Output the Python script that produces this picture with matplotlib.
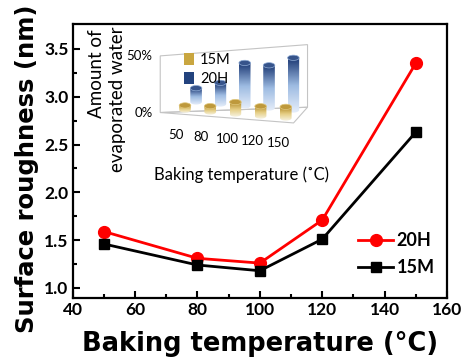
import numpy as np
import matplotlib
matplotlib.use('Agg')
import matplotlib.pyplot as plt
from matplotlib.colors import LinearSegmentedColormap
from matplotlib.patches import Patch, Ellipse, Polygon

# main chart data
temps = [50, 80, 100, 120, 150]
rough_20H = [1.59, 1.31, 1.26, 1.71, 3.35]
rough_15M = [1.46, 1.24, 1.18, 1.51, 2.63]

# inset data (amount of evaporated water, %)
inset_labels = ['50', '80', '100', '120', '150']
water_15M = [4, 5, 10, 8, 9]
water_20H = [12, 18, 36, 35, 42]

plt.rcParams['font.family'] = ['Lato', 'DejaVu Sans']

W, H = 464, 357
fig = plt.figure(figsize=(W / 100, H / 100), dpi=100)

def fx(px):
    return px / W

def fy(py):
    return 1 - py / H

ax = fig.add_axes([fx(72.7), fy(298), fx(447) - fx(72.7), fy(24) - fy(298)])
ax.plot(temps, rough_20H, color='red', lw=2.0, marker='o', ms=8.5, label='20H')
ax.plot(temps, rough_15M, color='black', lw=2.0, marker='s', ms=7, label='15M')
ax.set_xlim(40, 160)
ax.set_ylim(0.895, 3.76)
ax.set_xticks(range(40, 161, 20))
ax.set_xticks(range(50, 160, 20), minor=True)
ax.set_yticks(np.arange(1.0, 3.6, 0.5))
ax.set_yticks(np.arange(1.25, 3.6, 0.5), minor=True)
ax.tick_params(which='both', direction='in', top=False, right=False, width=1.5)
ax.tick_params(which='major', length=5, labelsize=12.5, pad=3)
ax.tick_params(which='minor', length=3)
for s in ax.spines.values():
    s.set_linewidth(1.6)
for lab in ax.get_xticklabels() + ax.get_yticklabels():
    lab.set_fontweight('bold')
ax.set_xlabel('Baking temperature (°C)', fontsize=18.5, fontweight='bold',
              family='DejaVu Sans', labelpad=9)
ax.set_ylabel('Surface roughness (nm)', fontsize=17.5, fontweight='bold',
              family='DejaVu Sans')
ax.yaxis.set_label_coords(-0.09, 0.47)
leg = ax.legend(loc='lower right', bbox_to_anchor=(1.01, 0.02), frameon=False,
                prop={'weight': 'bold', 'size': 13}, handlelength=1.9,
                handletextpad=0.2, labelspacing=0.55)

# ---- inset: 3D-looking cylinder chart drawn with an oblique projection ----
gold = LinearSegmentedColormap.from_list('gold', ['#f7f3e2', '#e6cf86', '#b48c2a'])
blue = LinearSegmentedColormap.from_list('blue', ['#e6eefa', '#9dbbe2', '#1e3b76'])

# inset units: 1 category = 25.2 px, 1 % = 1.15 px
axi = fig.add_axes([fx(100), fy(200), fx(340) - fx(100), fy(20) - fy(200)])
xl = ((100 - 185) / 25.2, (340 - 185) / 25.2)
yl = (-(200 - 110) / 1.15, (110 - 20) / 1.15)
axi.axis('off')


def proj(i, j, z):
    # i: category index, j: depth (0 front, 1 back), z: value in %
    u = i + (0.44 - 0.035 * i) * j
    v = z * (1 + 0.02 * i) - 1.74 * i + 7.0 * j
    return u, v


grey = '#c4c4c4'
i0, i1, jf, jb = -0.75, 4.45, -0.5, 1.45
fl, fr, br = proj(i0, jf, 0), proj(i1, jf, 0), proj(i1, jb, 0)
tl, tr = proj(i0, jf, 50), proj(i1, jb, 50)
axi.add_patch(Polygon([fl, fr, br], closed=True, facecolor='white', edgecolor=grey, lw=0.8, zorder=1))
axi.add_patch(Polygon([fl, tl, tr, br], closed=True, facecolor='none', edgecolor=grey, lw=0.8, zorder=1))

r = 0.23
e = 2.3  # half height of the cylinder ellipses, in % units
grad = np.linspace(0, 1, 64).reshape(-1, 1)


def cylinder(i, j, val, cmap, z):
    cx, base = proj(i, j, 0)
    _, top = proj(i, j, val)
    t = np.linspace(np.pi, 2 * np.pi, 30)
    pts = [(cx - r, top)] + [(cx + r * np.cos(a), base + e * np.sin(a)) for a in t] + [(cx + r, top)]
    body = Polygon(pts, closed=True, facecolor='none', edgecolor='none', zorder=z)
    axi.add_patch(body)
    im = axi.imshow(grad, cmap=cmap, origin='lower', aspect='auto',
                    extent=[cx - r, cx + r, base - e, top], zorder=z, interpolation='bilinear')
    im.set_clip_path(body)
    axi.add_patch(Ellipse((cx, top), 2 * r, 2 * e, facecolor=cmap(0.9),
                          edgecolor=cmap(0.55), lw=0.5, zorder=z + 0.1))


for i, v in enumerate(water_20H):
    cylinder(i, 1, v, blue, 2 + 0.01 * i)
for i, v in enumerate(water_15M):
    cylinder(i, 0, v, gold, 3 + 0.01 * i)
axi.set_xlim(*xl)
axi.set_ylim(*yl)

for pt, txt in [(tl, '50%'), (fl, '0%')]:
    axi.text(pt[0] - 0.3, pt[1], txt, ha='right', va='center', fontsize=9.5)
for i, lab in enumerate(inset_labels):
    u, v = proj(i, jf, 0)
    axi.text(u - 0.15, v - 18, lab, ha='center', va='center', fontsize=9.5)

fig.legend(handles=[Patch(facecolor='#c9a640', label='15M'), Patch(facecolor='#23437e', label='20H')],
           loc='upper left', bbox_to_anchor=(fx(171), fy(40)), frameon=False,
           prop={'size': 10.5}, handlelength=0.7, handleheight=0.9,
           handletextpad=0.4, labelspacing=0.35)

fig.text(fx(97), fy(29), 'Amount of', rotation=90, ha='center', va='top', fontsize=13.5)
fig.text(fx(118), fy(27), 'evaporated water', rotation=90, ha='center', va='top', fontsize=13.5)
fig.text(fx(242), fy(175), 'Baking temperature (˚C)', ha='center', va='center', fontsize=12)

fig.savefig('out.png', dpi=100)
